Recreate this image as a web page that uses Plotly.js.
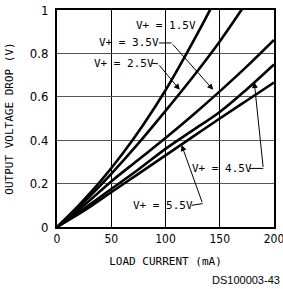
<!DOCTYPE html>
<html><head><meta charset="utf-8">
<script src="https://cdn.plot.ly/plotly-3.0.1.min.js"></script>
<style>html,body{margin:0;padding:0;background:#fff}#chart{width:283px;height:289px}</style>
</head><body><div id="chart"></div>
<script>
// Load current (mA) and output voltage drop (V) per supply voltage
const seriesNames = ['V+ = 1.5V', 'V+ = 2.5V', 'V+ = 3.5V', 'V+ = 4.5V', 'V+ = 5.5V'];
const current15 = [0, 20, 40, 60, 80, 100, 120, 140, 150];
const drop15    = [0, 0.1, 0.21, 0.335, 0.475, 0.63, 0.805, 0.99, 1.09];
const current25 = [0, 25, 50, 75, 100, 125, 150, 170, 180];
const drop25    = [0, 0.115, 0.245, 0.385, 0.535, 0.69, 0.855, 1.0, 1.075];
const current35 = [0, 25, 50, 75, 100, 125, 150, 175, 200];
const drop35    = [0, 0.1, 0.21, 0.31, 0.41, 0.515, 0.625, 0.74, 0.862];
const current45 = [0, 25, 50, 75, 100, 125, 150, 175, 200];
const drop45    = [0, 0.085, 0.175, 0.265, 0.36, 0.445, 0.53, 0.635, 0.749];
const current55 = [0, 25, 50, 75, 100, 125, 150, 175, 200];
const drop55    = [0, 0.075, 0.16, 0.245, 0.33, 0.415, 0.5, 0.583, 0.666];

const xTicks = [0, 50, 100, 150, 200];
const xTickText = ['0', '50', '100', '150', '200'];
const yTicks = [0, 0.2, 0.4, 0.6, 0.8, 1];
const yTickText = ['0', '0.2', '0.4', '0.6', '0.8', '1'];

const xs = [current15, current25, current35, current45, current55];
const ys = [drop15, drop25, drop35, drop45, drop55];

const traces = xs.map((x, i) => ({
  x: x, y: ys[i], name: seriesNames[i], type: 'scatter', mode: 'lines',
  line: {color: '#000', width: 2.6, shape: 'spline', smoothing: 1},
  hoverinfo: 'skip'
}));

const labFont = {family: 'DejaVu Sans Mono, Liberation Mono, monospace', size: 11, color: '#000'};
const tickFamily = 'Liberation Sans Narrow, DejaVu Sans Condensed, Liberation Sans, sans-serif';

// label text, text position, leader elbow start/end, arrow tip
const labels = [
  {t: seriesNames[0], x: 100.1, y: 0.928},
  {t: seriesNames[2], x: 66.2, y: 0.848, l0: [94.1, 0.848], l1: [105.6, 0.848], tip: [144, 0.632]},
  {t: seriesNames[1], x: 61.7, y: 0.755, l0: [87.1, 0.755], l1: [93.2, 0.752], tip: [113.2, 0.632]},
  {t: seriesNames[3], x: 152.5, y: 0.27, l0: [177.8, 0.27], l1: [190.1, 0.27], tip: [181.8, 0.668]},
  {t: seriesNames[4], x: 97.4, y: 0.10, l0: [124.3, 0.10], l1: [134.2, 0.108], tip: [114.8, 0.378]}
];

const annotations = [];
const shapes = [];
labels.forEach(L => {
  annotations.push({x: L.x, y: L.y, xref: 'x', yref: 'y', text: L.t, showarrow: false, font: labFont});
  if (L.tip) {
    shapes.push({type: 'line', xref: 'x', yref: 'y', x0: L.l0[0], y0: L.l0[1], x1: L.l1[0], y1: L.l1[1],
      line: {color: '#000', width: 1}});
    annotations.push({x: L.tip[0], y: L.tip[1], ax: L.l1[0], ay: L.l1[1], axref: 'x', ayref: 'y',
      xref: 'x', yref: 'y', text: '', showarrow: true, arrowhead: 2, arrowsize: 1.2, arrowwidth: 1,
      arrowcolor: '#000', standoff: 0});
  }
});
annotations.push({xref: 'paper', yref: 'paper', x: 1.038, y: -0.246, xanchor: 'right', yanchor: 'middle',
  text: 'DS100003-43', showarrow: false, font: {family: 'Liberation Sans, Arial, sans-serif', size: 11, color: '#000'}});

const layout = {
  width: 283, height: 289,
  margin: {l: 57, r: 9, t: 10, b: 62, pad: 0},
  paper_bgcolor: '#fff', plot_bgcolor: '#fff',
  showlegend: false,
  xaxis: {
    range: [0, 200], tickvals: xTicks, ticktext: xTickText, ticks: '',
    showgrid: true, gridcolor: '#000', gridwidth: 1, zeroline: false,
    showline: true, linecolor: '#000', linewidth: 2, mirror: true,
    tickfont: {family: tickFamily, size: 12, color: '#000'}, fixedrange: true, ticklabeloverflow: 'allow',
    title: {text: 'LOAD CURRENT (mA)', font: labFont, standoff: 12}
  },
  yaxis: {
    range: [0, 1], tickvals: yTicks, ticktext: yTickText, ticks: '',
    showgrid: true, gridcolor: '#555', gridwidth: 1, zeroline: false,
    showline: true, linecolor: '#000', linewidth: 2, mirror: true,
    tickfont: {family: tickFamily, size: 13, color: '#000'}, fixedrange: true, ticklabelstandoff: 4, ticklabeloverflow: 'allow',
    title: {text: 'OUTPUT VOLTAGE DROP (V)', font: labFont, standoff: 14}
  },
  annotations: annotations,
  shapes: shapes
};

Plotly.newPlot('chart', traces, layout, {staticPlot: true, displayModeBar: false});
</script></body></html>
